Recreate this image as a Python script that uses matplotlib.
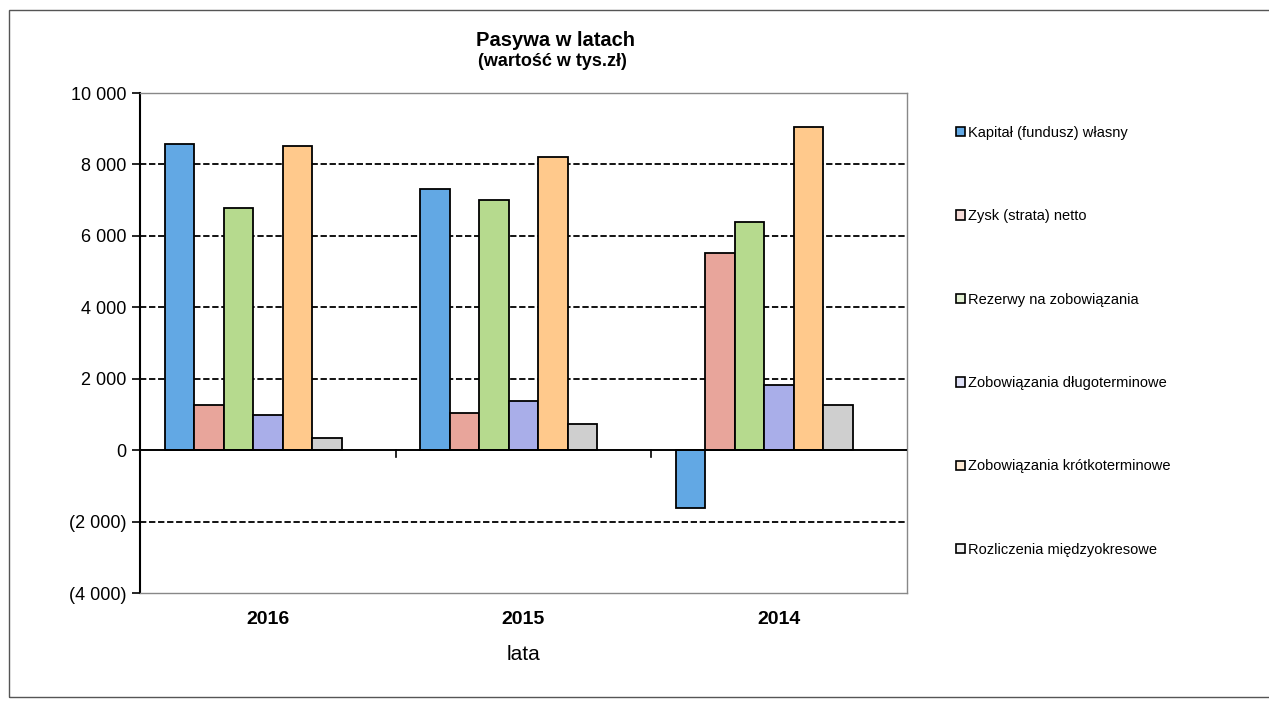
import matplotlib
matplotlib.use("Agg")
import matplotlib.pyplot as plt
import numpy as np
from matplotlib.patches import Rectangle
from matplotlib.ticker import FixedLocator, FuncFormatter

plt.rcParams['font.family'] = ['Liberation Sans', 'DejaVu Sans']

years = ['2016', '2015', '2014']
series_names = [
    'Kapitał (fundusz) własny',
    'Zysk (strata) netto',
    'Rezerwy na zobowiązania',
    'Zobowiązania długoterminowe',
    'Zobowiązania krótkoterminowe',
    'Rozliczenia międzyokresowe',
]
kapital = [8570, 7310, -1610]
zysk = [1250, 1030, 5520]
rezerwy = [6790, 7000, 6390]
zob_dlugo = [990, 1370, 1820]
zob_krotko = [8510, 8210, 9040]
rozliczenia = [330, 740, 1255]
series_values = [kapital, zysk, rezerwy, zob_dlugo, zob_krotko, rozliczenia]
colors = ['#62A8E4', '#E8A59B', '#B6DA8E', '#A9AEE9', '#FFC98C', '#CFCFCF']
legend_colors = ['#62A8E4', '#F6DCD8', '#E3F1D4', '#DEE0F7', '#FFEBD4', '#F0F0F0']
yticks = [10000, 8000, 6000, 4000, 2000, 0, -2000, -4000]

W, H = 1269, 706
fig = plt.figure(figsize=(W / 100, H / 100), dpi=100)
fig.patch.set_facecolor('white')

# outer chart border
fig.add_artist(Rectangle((9 / W, 1 - 697 / H), 1.1, (697 - 10) / H,
                         transform=fig.transFigure, fill=False,
                         edgecolor='#555555', linewidth=1.0))

ax = fig.add_axes([140 / W, 1 - 593 / H, 767 / W, 500 / H])
x = np.arange(len(years))
n_slots = 7
bw = 0.1154
start = -n_slots * bw / 2
for i, (vals, c) in enumerate(zip(series_values, colors)):
    ax.bar(x + start + (i + 0.5) * bw, vals, width=bw, color=c,
           edgecolor='black', linewidth=1.3, label=series_names[i], zorder=3)

ax.set_xlim(-0.5, len(years) - 0.5)
ax.set_ylim(-4000, 10000)
ax.yaxis.set_major_locator(FixedLocator(yticks))

def fmt(v, pos):
    s = f"{abs(int(v)):,}".replace(',', ' ')
    return f"({s})" if v < 0 else s

ax.yaxis.set_major_formatter(FuncFormatter(fmt))
ax.tick_params(axis='y', direction='out', length=6, width=1.2, labelsize=13, pad=4)
for v in [8000, 6000, 4000, 2000, -2000]:
    ax.axhline(v, color='black', linestyle=(0, (3.5, 1.5)), linewidth=1.3, zorder=1)

ax.set_xticks(x)
ax.set_xticklabels(years, fontsize=14, fontweight='bold')
ax.tick_params(axis='x', length=0, pad=13)
ax.set_xlabel('lata', fontsize=15, labelpad=12)

# category axis at zero with boundary ticks
ax.axhline(0, color='black', linewidth=1.4, zorder=4)
for b in [0.5, 1.5]:
    ax.plot([b, b], [0, -180], color='black', linewidth=1.2, zorder=4, clip_on=False)

for side in ['top', 'right', 'bottom']:
    ax.spines[side].set_color('#888888')
    ax.spines[side].set_linewidth(1.0)
ax.spines['left'].set_color('black')
ax.spines['left'].set_linewidth(1.5)

fig.text(555 / W, 1 - 41 / H, 'Pasywa w latach', ha='center', va='center',
         fontsize=14.5, fontweight='bold')
fig.text(552 / W, 1 - 62 / H, '(wartość w tys.zł)', ha='center', va='center',
         fontsize=13, fontweight='bold')

handles = [Rectangle((0, 0), 1, 1, facecolor=c, edgecolor='black', linewidth=1.2)
           for c in legend_colors]
fig.legend(handles, series_names, loc='upper left',
           bbox_to_anchor=(950 / W, 1 - 120 / H), frameon=False,
           fontsize=10.5, handlelength=0.6, handleheight=0.6, handletextpad=0.25,
           labelspacing=4.76, borderaxespad=0)

fig.savefig('out.png', dpi=100, facecolor='white')
